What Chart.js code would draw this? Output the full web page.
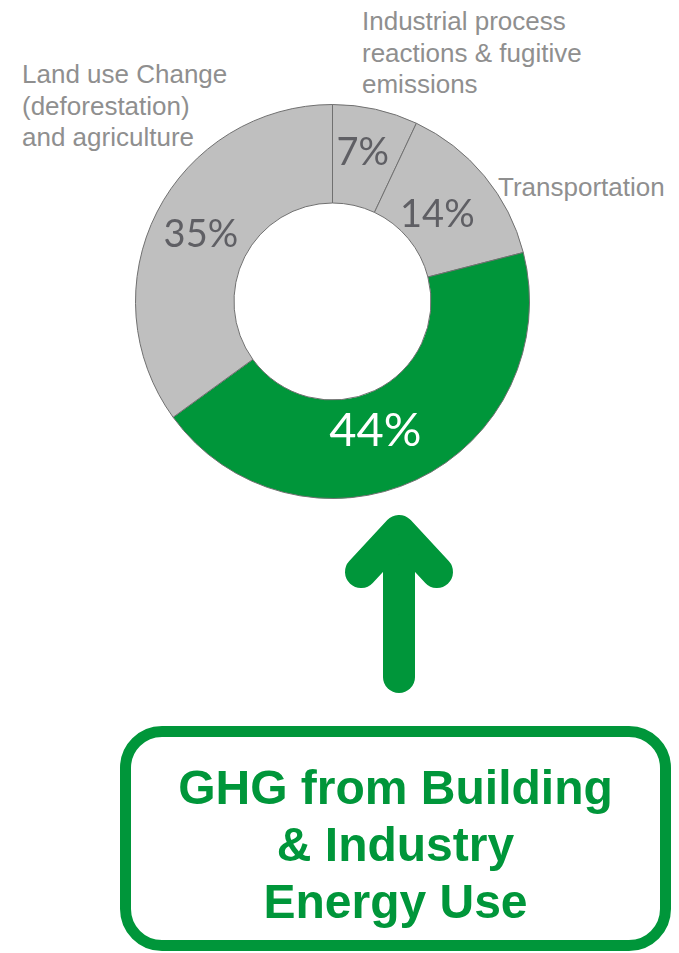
<!DOCTYPE html>
<html>
<head>
<meta charset="utf-8">
<script src="https://cdn.jsdelivr.net/npm/chart.js@4/dist/chart.umd.min.js"></script>
<style>
  html, body { margin: 0; padding: 0; background: #fff; }
  body { width: 679px; height: 953px; position: relative; overflow: hidden; font-family: "Liberation Sans", Arial, sans-serif; }
  .wrap { position: absolute; left: 135px; top: 104px; width: 395px; height: 395px; }
  .lbl { position: absolute; color: #8f8f8f; font-size: 26px; line-height: 31.5px; white-space: nowrap; }
  .box { position: absolute; left: 120px; top: 726px; width: 529px; height: 203px; border: 11px solid #00963a; border-radius: 42px; }
  .box p { margin: 0; position: absolute; left: 0; right: 0; top: 22px; text-align: center; color: #00963a; font-weight: bold; font-size: 48px; line-height: 57px; }
</style>
</head>
<body>
<div class="lbl" style="left:22px; top:59px;">Land use Change<br>(deforestation)<br>and agriculture</div>
<div class="lbl" style="left:362px; top:6px;">Industrial process<br>reactions &amp; fugitive<br>emissions</div>
<div class="lbl" style="left:498px; top:172px;">Transportation</div>

<div class="wrap"><canvas id="ghg"></canvas></div>

<svg width="679" height="953" style="position:absolute; left:0; top:0;">
  <g stroke="#00963a" stroke-width="32" stroke-linecap="round" stroke-linejoin="round" fill="none">
    <line x1="399" y1="677" x2="399" y2="533"/>
    <polyline points="361,572 399,531 437,572"/>
  </g>
</svg>

<div class="box"><p>GHG from Building<br>&amp; Industry<br>Energy Use</p></div>

<script>
// sectors clockwise from 12 o'clock
const sectors = ["Industrial process", "Transportation", "Building & Industry energy", "Land use change & agriculture"];
const shares = [7, 14, 44, 35];
const sliceColors = ["#bfbfbf", "#bfbfbf", "#00963a", "#bfbfbf"];
const pctColors = ["#5f5f64", "#5f5f64", "#ffffff", "#5f5f64"];

// small nudges (px) so labels sit where the slide placed them
const labelNudge = [[-2, -5], [-9, 7], [-20, -4], [0, 0]];

const pctLabels = {
    id: "pctLabels",
    afterDatasetsDraw(chart) {
        const ctx = chart.ctx;
        const arcs = chart.getDatasetMeta(0).data;
        ctx.save();
        ctx.textAlign = "center";
        ctx.textBaseline = "middle";
        arcs.forEach((arc, i) => {
            const p = arc.getProps(["x", "y", "startAngle", "endAngle", "innerRadius", "outerRadius"], true);
            const mid = (p.startAngle + p.endAngle) / 2;
            const r = (p.innerRadius + p.outerRadius) / 2;
            const x = p.x + Math.cos(mid) * r + labelNudge[i][0];
            const y = p.y + Math.sin(mid) * r + labelNudge[i][1];
            ctx.fillStyle = pctColors[i];
            ctx.font = (i == 2 ? "47px" : "38px") + " Lato, 'Noto Sans', sans-serif";
            ctx.fillText(shares[i] + "%", x, y);
        });
        ctx.restore();
    },
};

const ctx = document.getElementById("ghg").getContext("2d");
new Chart(ctx, {
    type: "doughnut",
    data: {
        labels: sectors,
        datasets: [
            {
                data: shares,
                backgroundColor: sliceColors,
                borderColor: "#707070",
                borderWidth: 1,
                hoverOffset: 0,
            },
        ],
    },
    options: {
        responsive: true,
        maintainAspectRatio: false,
        animation: false,
        cutout: "50%",
        layout: { padding: 0 },
        plugins: {
            legend: { display: false },
            tooltip: { enabled: false },
        },
    },
    plugins: [pctLabels],
});
</script>
</body>
</html>
